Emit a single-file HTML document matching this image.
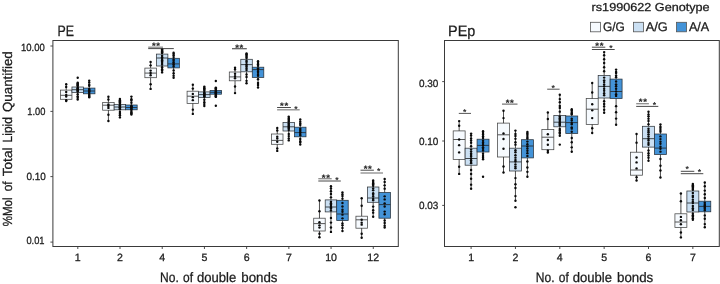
<!DOCTYPE html>
<html><head><meta charset="utf-8"><title>Lipid boxplots</title>
<style>
html,body{margin:0;padding:0;background:#fff;}
body{width:720px;height:284px;overflow:hidden;font-family:"Liberation Sans",sans-serif;}
svg{display:block;will-change:transform;}
svg text{font-family:"Liberation Sans",sans-serif;fill:#1c1c1c;stroke:#1c1c1c;stroke-width:0.28px;text-rendering:geometricPrecision;}
</style></head><body>
<svg width="720" height="284" viewBox="0 0 720 284">
<rect width="720" height="284" fill="#fff"/>
<rect x="52.9" y="40.5" width="345.40000000000003" height="206.0" fill="none" stroke="#3a3a3a" stroke-width="1"/>
<rect x="444.5" y="40.5" width="274.79999999999995" height="206.0" fill="none" stroke="#3a3a3a" stroke-width="1"/>
<rect x="60.45" y="90.1" width="11.5" height="9.20" fill="#f6fafe" stroke="#444" stroke-width="0.75"/>
<path d="M60.45 95.3H71.95" stroke="#444" stroke-width="0.9"/>
<path d="M66.20 84.3V90.1M66.20 99.3V101" stroke="#222" stroke-width="0.8" fill="none"/>
<circle cx="66.20" cy="84.30" r="1.2" fill="#0a0a0a"/>
<circle cx="66.20" cy="101.00" r="1.2" fill="#0a0a0a"/>
<circle cx="66.20" cy="86.94" r="1.2" fill="#0a0a0a"/>
<circle cx="66.20" cy="92.00" r="1.2" fill="#0a0a0a"/>
<circle cx="66.20" cy="94.87" r="1.2" fill="#0a0a0a"/>
<circle cx="66.20" cy="96.51" r="1.2" fill="#0a0a0a"/>
<circle cx="66.20" cy="100.17" r="1.2" fill="#0a0a0a"/>
<rect x="71.95" y="87" width="11.5" height="5.40" fill="#cbe0f3" stroke="#30353a" stroke-width="0.75"/>
<path d="M71.95 89.7H83.45" stroke="#30353a" stroke-width="0.9"/>
<path d="M77.70 82.7V87M77.70 92.4V99.5" stroke="#222" stroke-width="0.8" fill="none"/>
<circle cx="77.70" cy="82.70" r="1.2" fill="#0a0a0a"/>
<circle cx="77.70" cy="99.50" r="1.2" fill="#0a0a0a"/>
<circle cx="77.70" cy="77.70" r="1.2" fill="#0a0a0a"/>
<circle cx="77.70" cy="83.50" r="1.2" fill="#0a0a0a"/>
<circle cx="77.70" cy="84.23" r="1.2" fill="#0a0a0a"/>
<circle cx="77.70" cy="85.28" r="1.2" fill="#0a0a0a"/>
<circle cx="77.70" cy="85.94" r="1.2" fill="#0a0a0a"/>
<circle cx="77.70" cy="87.65" r="1.2" fill="#0a0a0a"/>
<circle cx="77.70" cy="88.20" r="1.2" fill="#0a0a0a"/>
<circle cx="77.70" cy="88.89" r="1.2" fill="#0a0a0a"/>
<circle cx="77.70" cy="89.67" r="1.2" fill="#0a0a0a"/>
<circle cx="77.70" cy="90.49" r="1.2" fill="#0a0a0a"/>
<circle cx="77.70" cy="90.92" r="1.2" fill="#0a0a0a"/>
<circle cx="77.70" cy="91.63" r="1.2" fill="#0a0a0a"/>
<circle cx="77.70" cy="94.29" r="1.2" fill="#0a0a0a"/>
<circle cx="77.70" cy="96.35" r="1.2" fill="#0a0a0a"/>
<circle cx="77.70" cy="97.79" r="1.2" fill="#0a0a0a"/>
<rect x="83.45" y="88.1" width="11.5" height="5.70" fill="#4393d8" stroke="#27313b" stroke-width="0.75"/>
<path d="M83.45 91H94.95" stroke="#27313b" stroke-width="0.9"/>
<path d="M89.20 80.6V88.1M89.20 93.8V97.3" stroke="#222" stroke-width="0.8" fill="none"/>
<circle cx="89.20" cy="80.60" r="1.2" fill="#0a0a0a"/>
<circle cx="89.20" cy="97.30" r="1.2" fill="#0a0a0a"/>
<circle cx="89.20" cy="82.38" r="1.2" fill="#0a0a0a"/>
<circle cx="89.20" cy="84.80" r="1.2" fill="#0a0a0a"/>
<circle cx="89.20" cy="85.80" r="1.2" fill="#0a0a0a"/>
<circle cx="89.20" cy="89.06" r="1.2" fill="#0a0a0a"/>
<circle cx="89.20" cy="89.64" r="1.2" fill="#0a0a0a"/>
<circle cx="89.20" cy="90.40" r="1.2" fill="#0a0a0a"/>
<circle cx="89.20" cy="91.20" r="1.2" fill="#0a0a0a"/>
<circle cx="89.20" cy="92.09" r="1.2" fill="#0a0a0a"/>
<circle cx="89.20" cy="93.11" r="1.2" fill="#0a0a0a"/>
<circle cx="89.20" cy="94.54" r="1.2" fill="#0a0a0a"/>
<circle cx="89.20" cy="95.59" r="1.2" fill="#0a0a0a"/>
<circle cx="89.20" cy="96.49" r="1.2" fill="#0a0a0a"/>
<rect x="102.66" y="102.6" width="11.5" height="7.60" fill="#f6fafe" stroke="#444" stroke-width="0.75"/>
<path d="M102.66 105.2H114.16" stroke="#444" stroke-width="0.9"/>
<path d="M108.41 96.8V102.6M108.41 110.2V121" stroke="#222" stroke-width="0.8" fill="none"/>
<circle cx="108.41" cy="96.80" r="1.2" fill="#0a0a0a"/>
<circle cx="108.41" cy="121.00" r="1.2" fill="#0a0a0a"/>
<circle cx="108.41" cy="99.51" r="1.2" fill="#0a0a0a"/>
<circle cx="108.41" cy="104.55" r="1.2" fill="#0a0a0a"/>
<circle cx="108.41" cy="105.98" r="1.2" fill="#0a0a0a"/>
<circle cx="108.41" cy="107.88" r="1.2" fill="#0a0a0a"/>
<circle cx="108.41" cy="114.81" r="1.2" fill="#0a0a0a"/>
<rect x="114.16" y="104.6" width="11.5" height="5.20" fill="#cbe0f3" stroke="#30353a" stroke-width="0.75"/>
<path d="M114.16 107H125.66" stroke="#30353a" stroke-width="0.9"/>
<path d="M119.91 99V104.6M119.91 109.8V117.4" stroke="#222" stroke-width="0.8" fill="none"/>
<circle cx="119.91" cy="99.00" r="1.2" fill="#0a0a0a"/>
<circle cx="119.91" cy="117.40" r="1.2" fill="#0a0a0a"/>
<circle cx="119.91" cy="100.22" r="1.2" fill="#0a0a0a"/>
<circle cx="119.91" cy="101.20" r="1.2" fill="#0a0a0a"/>
<circle cx="119.91" cy="102.26" r="1.2" fill="#0a0a0a"/>
<circle cx="119.91" cy="103.53" r="1.2" fill="#0a0a0a"/>
<circle cx="119.91" cy="105.23" r="1.2" fill="#0a0a0a"/>
<circle cx="119.91" cy="105.83" r="1.2" fill="#0a0a0a"/>
<circle cx="119.91" cy="106.65" r="1.2" fill="#0a0a0a"/>
<circle cx="119.91" cy="107.26" r="1.2" fill="#0a0a0a"/>
<circle cx="119.91" cy="107.77" r="1.2" fill="#0a0a0a"/>
<circle cx="119.91" cy="108.52" r="1.2" fill="#0a0a0a"/>
<circle cx="119.91" cy="109.16" r="1.2" fill="#0a0a0a"/>
<circle cx="119.91" cy="112.06" r="1.2" fill="#0a0a0a"/>
<circle cx="119.91" cy="113.82" r="1.2" fill="#0a0a0a"/>
<circle cx="119.91" cy="115.30" r="1.2" fill="#0a0a0a"/>
<rect x="125.66" y="105" width="11.5" height="4.80" fill="#4393d8" stroke="#27313b" stroke-width="0.75"/>
<path d="M125.66 107.5H137.16" stroke="#27313b" stroke-width="0.9"/>
<path d="M131.41 96.6V105M131.41 109.8V114.6" stroke="#222" stroke-width="0.8" fill="none"/>
<circle cx="131.41" cy="96.60" r="1.2" fill="#0a0a0a"/>
<circle cx="131.41" cy="114.60" r="1.2" fill="#0a0a0a"/>
<circle cx="131.41" cy="99.20" r="1.2" fill="#0a0a0a"/>
<circle cx="131.41" cy="100.40" r="1.2" fill="#0a0a0a"/>
<circle cx="131.41" cy="102.81" r="1.2" fill="#0a0a0a"/>
<circle cx="131.41" cy="105.77" r="1.2" fill="#0a0a0a"/>
<circle cx="131.41" cy="106.25" r="1.2" fill="#0a0a0a"/>
<circle cx="131.41" cy="107.05" r="1.2" fill="#0a0a0a"/>
<circle cx="131.41" cy="107.58" r="1.2" fill="#0a0a0a"/>
<circle cx="131.41" cy="108.49" r="1.2" fill="#0a0a0a"/>
<circle cx="131.41" cy="109.20" r="1.2" fill="#0a0a0a"/>
<circle cx="131.41" cy="111.04" r="1.2" fill="#0a0a0a"/>
<circle cx="131.41" cy="112.43" r="1.2" fill="#0a0a0a"/>
<circle cx="131.41" cy="113.29" r="1.2" fill="#0a0a0a"/>
<rect x="144.87" y="68.1" width="11.5" height="9.60" fill="#f6fafe" stroke="#444" stroke-width="0.75"/>
<path d="M144.87 73.1H156.37" stroke="#444" stroke-width="0.9"/>
<path d="M150.62 62V68.1M150.62 77.7V88.9" stroke="#222" stroke-width="0.8" fill="none"/>
<circle cx="150.62" cy="62.00" r="1.2" fill="#0a0a0a"/>
<circle cx="150.62" cy="88.90" r="1.2" fill="#0a0a0a"/>
<circle cx="150.62" cy="65.35" r="1.2" fill="#0a0a0a"/>
<circle cx="150.62" cy="70.61" r="1.2" fill="#0a0a0a"/>
<circle cx="150.62" cy="73.00" r="1.2" fill="#0a0a0a"/>
<circle cx="150.62" cy="75.25" r="1.2" fill="#0a0a0a"/>
<circle cx="150.62" cy="84.25" r="1.2" fill="#0a0a0a"/>
<rect x="156.37" y="54.1" width="11.5" height="11.90" fill="#cbe0f3" stroke="#30353a" stroke-width="0.75"/>
<path d="M156.37 58H167.87" stroke="#30353a" stroke-width="0.9"/>
<path d="M162.12 49.2V54.1M162.12 66V72.4" stroke="#222" stroke-width="0.8" fill="none"/>
<circle cx="162.12" cy="49.20" r="1.2" fill="#0a0a0a"/>
<circle cx="162.12" cy="72.40" r="1.2" fill="#0a0a0a"/>
<circle cx="162.12" cy="50.40" r="1.2" fill="#0a0a0a"/>
<circle cx="162.12" cy="51.15" r="1.2" fill="#0a0a0a"/>
<circle cx="162.12" cy="52.22" r="1.2" fill="#0a0a0a"/>
<circle cx="162.12" cy="52.90" r="1.2" fill="#0a0a0a"/>
<circle cx="162.12" cy="55.74" r="1.2" fill="#0a0a0a"/>
<circle cx="162.12" cy="57.18" r="1.2" fill="#0a0a0a"/>
<circle cx="162.12" cy="58.93" r="1.2" fill="#0a0a0a"/>
<circle cx="162.12" cy="60.29" r="1.2" fill="#0a0a0a"/>
<circle cx="162.12" cy="61.38" r="1.2" fill="#0a0a0a"/>
<circle cx="162.12" cy="62.94" r="1.2" fill="#0a0a0a"/>
<circle cx="162.12" cy="64.64" r="1.2" fill="#0a0a0a"/>
<circle cx="162.12" cy="67.22" r="1.2" fill="#0a0a0a"/>
<circle cx="162.12" cy="69.17" r="1.2" fill="#0a0a0a"/>
<circle cx="162.12" cy="70.53" r="1.2" fill="#0a0a0a"/>
<rect x="167.87" y="58.3" width="11.5" height="9.60" fill="#4393d8" stroke="#27313b" stroke-width="0.75"/>
<path d="M167.87 63.9H179.37" stroke="#27313b" stroke-width="0.9"/>
<path d="M173.62 52.7V58.3M173.62 67.9V77.7" stroke="#222" stroke-width="0.8" fill="none"/>
<circle cx="173.62" cy="52.70" r="1.2" fill="#0a0a0a"/>
<circle cx="173.62" cy="77.70" r="1.2" fill="#0a0a0a"/>
<circle cx="173.62" cy="53.83" r="1.2" fill="#0a0a0a"/>
<circle cx="173.62" cy="55.19" r="1.2" fill="#0a0a0a"/>
<circle cx="173.62" cy="57.09" r="1.2" fill="#0a0a0a"/>
<circle cx="173.62" cy="59.42" r="1.2" fill="#0a0a0a"/>
<circle cx="173.62" cy="60.87" r="1.2" fill="#0a0a0a"/>
<circle cx="173.62" cy="62.34" r="1.2" fill="#0a0a0a"/>
<circle cx="173.62" cy="64.04" r="1.2" fill="#0a0a0a"/>
<circle cx="173.62" cy="64.87" r="1.2" fill="#0a0a0a"/>
<circle cx="173.62" cy="66.49" r="1.2" fill="#0a0a0a"/>
<circle cx="173.62" cy="70.41" r="1.2" fill="#0a0a0a"/>
<circle cx="173.62" cy="73.27" r="1.2" fill="#0a0a0a"/>
<circle cx="173.62" cy="75.64" r="1.2" fill="#0a0a0a"/>
<rect x="187.08" y="91.2" width="11.5" height="12.20" fill="#f6fafe" stroke="#444" stroke-width="0.75"/>
<path d="M187.08 96.2H198.58" stroke="#444" stroke-width="0.9"/>
<path d="M192.83 84.8V91.2M192.83 103.4V113.9" stroke="#222" stroke-width="0.8" fill="none"/>
<circle cx="192.83" cy="84.80" r="1.2" fill="#0a0a0a"/>
<circle cx="192.83" cy="113.90" r="1.2" fill="#0a0a0a"/>
<circle cx="192.83" cy="88.58" r="1.2" fill="#0a0a0a"/>
<circle cx="192.83" cy="93.91" r="1.2" fill="#0a0a0a"/>
<circle cx="192.83" cy="97.17" r="1.2" fill="#0a0a0a"/>
<circle cx="192.83" cy="100.13" r="1.2" fill="#0a0a0a"/>
<circle cx="192.83" cy="109.66" r="1.2" fill="#0a0a0a"/>
<rect x="198.58" y="91.9" width="11.5" height="5.70" fill="#cbe0f3" stroke="#30353a" stroke-width="0.75"/>
<path d="M198.58 94.6H210.08" stroke="#30353a" stroke-width="0.9"/>
<path d="M204.33 86.6V91.9M204.33 97.6V106" stroke="#222" stroke-width="0.8" fill="none"/>
<circle cx="204.33" cy="86.60" r="1.2" fill="#0a0a0a"/>
<circle cx="204.33" cy="106.00" r="1.2" fill="#0a0a0a"/>
<circle cx="204.33" cy="87.90" r="1.2" fill="#0a0a0a"/>
<circle cx="204.33" cy="88.53" r="1.2" fill="#0a0a0a"/>
<circle cx="204.33" cy="89.61" r="1.2" fill="#0a0a0a"/>
<circle cx="204.33" cy="90.70" r="1.2" fill="#0a0a0a"/>
<circle cx="204.33" cy="92.52" r="1.2" fill="#0a0a0a"/>
<circle cx="204.33" cy="93.32" r="1.2" fill="#0a0a0a"/>
<circle cx="204.33" cy="94.07" r="1.2" fill="#0a0a0a"/>
<circle cx="204.33" cy="94.67" r="1.2" fill="#0a0a0a"/>
<circle cx="204.33" cy="95.29" r="1.2" fill="#0a0a0a"/>
<circle cx="204.33" cy="96.15" r="1.2" fill="#0a0a0a"/>
<circle cx="204.33" cy="96.84" r="1.2" fill="#0a0a0a"/>
<circle cx="204.33" cy="99.77" r="1.2" fill="#0a0a0a"/>
<circle cx="204.33" cy="102.28" r="1.2" fill="#0a0a0a"/>
<circle cx="204.33" cy="104.10" r="1.2" fill="#0a0a0a"/>
<rect x="210.08" y="90.4" width="11.5" height="3.80" fill="#4393d8" stroke="#27313b" stroke-width="0.75"/>
<path d="M210.08 92.3H221.58" stroke="#27313b" stroke-width="0.9"/>
<path d="M215.83 87.6V90.4M215.83 94.2V96.9" stroke="#222" stroke-width="0.8" fill="none"/>
<circle cx="215.83" cy="87.60" r="1.2" fill="#0a0a0a"/>
<circle cx="215.83" cy="96.90" r="1.2" fill="#0a0a0a"/>
<circle cx="215.83" cy="81.00" r="1.2" fill="#0a0a0a"/>
<circle cx="215.83" cy="105.80" r="1.2" fill="#0a0a0a"/>
<circle cx="215.83" cy="88.31" r="1.2" fill="#0a0a0a"/>
<circle cx="215.83" cy="89.04" r="1.2" fill="#0a0a0a"/>
<circle cx="215.83" cy="89.76" r="1.2" fill="#0a0a0a"/>
<circle cx="215.83" cy="90.82" r="1.2" fill="#0a0a0a"/>
<circle cx="215.83" cy="91.59" r="1.2" fill="#0a0a0a"/>
<circle cx="215.83" cy="92.10" r="1.2" fill="#0a0a0a"/>
<circle cx="215.83" cy="92.67" r="1.2" fill="#0a0a0a"/>
<circle cx="215.83" cy="93.20" r="1.2" fill="#0a0a0a"/>
<circle cx="215.83" cy="93.63" r="1.2" fill="#0a0a0a"/>
<circle cx="215.83" cy="94.84" r="1.2" fill="#0a0a0a"/>
<circle cx="215.83" cy="95.42" r="1.2" fill="#0a0a0a"/>
<circle cx="215.83" cy="96.27" r="1.2" fill="#0a0a0a"/>
<rect x="229.29" y="72" width="11.5" height="8.80" fill="#f6fafe" stroke="#444" stroke-width="0.75"/>
<path d="M229.29 76.9H240.79" stroke="#444" stroke-width="0.9"/>
<path d="M235.04 67.7V72M235.04 80.8V93.1" stroke="#222" stroke-width="0.8" fill="none"/>
<circle cx="235.04" cy="67.70" r="1.2" fill="#0a0a0a"/>
<circle cx="235.04" cy="93.10" r="1.2" fill="#0a0a0a"/>
<circle cx="235.04" cy="69.38" r="1.2" fill="#0a0a0a"/>
<circle cx="235.04" cy="73.72" r="1.2" fill="#0a0a0a"/>
<circle cx="235.04" cy="76.08" r="1.2" fill="#0a0a0a"/>
<circle cx="235.04" cy="78.23" r="1.2" fill="#0a0a0a"/>
<circle cx="235.04" cy="86.46" r="1.2" fill="#0a0a0a"/>
<rect x="240.79" y="59.3" width="11.5" height="12.50" fill="#cbe0f3" stroke="#30353a" stroke-width="0.75"/>
<path d="M240.79 64.6H252.29" stroke="#30353a" stroke-width="0.9"/>
<path d="M246.54 53.4V59.3M246.54 71.8V83.2" stroke="#222" stroke-width="0.8" fill="none"/>
<circle cx="246.54" cy="53.40" r="1.2" fill="#0a0a0a"/>
<circle cx="246.54" cy="83.20" r="1.2" fill="#0a0a0a"/>
<circle cx="246.54" cy="54.32" r="1.2" fill="#0a0a0a"/>
<circle cx="246.54" cy="55.47" r="1.2" fill="#0a0a0a"/>
<circle cx="246.54" cy="56.73" r="1.2" fill="#0a0a0a"/>
<circle cx="246.54" cy="57.88" r="1.2" fill="#0a0a0a"/>
<circle cx="246.54" cy="60.76" r="1.2" fill="#0a0a0a"/>
<circle cx="246.54" cy="62.05" r="1.2" fill="#0a0a0a"/>
<circle cx="246.54" cy="64.28" r="1.2" fill="#0a0a0a"/>
<circle cx="246.54" cy="65.64" r="1.2" fill="#0a0a0a"/>
<circle cx="246.54" cy="66.84" r="1.2" fill="#0a0a0a"/>
<circle cx="246.54" cy="68.48" r="1.2" fill="#0a0a0a"/>
<circle cx="246.54" cy="70.12" r="1.2" fill="#0a0a0a"/>
<circle cx="246.54" cy="74.46" r="1.2" fill="#0a0a0a"/>
<circle cx="246.54" cy="76.96" r="1.2" fill="#0a0a0a"/>
<circle cx="246.54" cy="80.85" r="1.2" fill="#0a0a0a"/>
<rect x="252.29" y="67.2" width="11.5" height="10.20" fill="#4393d8" stroke="#27313b" stroke-width="0.75"/>
<path d="M252.29 69.6H263.79" stroke="#27313b" stroke-width="0.9"/>
<path d="M258.04 61.2V67.2M258.04 77.4V87.5" stroke="#222" stroke-width="0.8" fill="none"/>
<circle cx="258.04" cy="61.20" r="1.2" fill="#0a0a0a"/>
<circle cx="258.04" cy="87.50" r="1.2" fill="#0a0a0a"/>
<circle cx="258.04" cy="63.07" r="1.2" fill="#0a0a0a"/>
<circle cx="258.04" cy="64.17" r="1.2" fill="#0a0a0a"/>
<circle cx="258.04" cy="65.69" r="1.2" fill="#0a0a0a"/>
<circle cx="258.04" cy="68.36" r="1.2" fill="#0a0a0a"/>
<circle cx="258.04" cy="69.82" r="1.2" fill="#0a0a0a"/>
<circle cx="258.04" cy="71.46" r="1.2" fill="#0a0a0a"/>
<circle cx="258.04" cy="72.86" r="1.2" fill="#0a0a0a"/>
<circle cx="258.04" cy="74.73" r="1.2" fill="#0a0a0a"/>
<circle cx="258.04" cy="75.70" r="1.2" fill="#0a0a0a"/>
<circle cx="258.04" cy="79.32" r="1.2" fill="#0a0a0a"/>
<circle cx="258.04" cy="83.02" r="1.2" fill="#0a0a0a"/>
<circle cx="258.04" cy="85.01" r="1.2" fill="#0a0a0a"/>
<rect x="271.50" y="134" width="11.5" height="10.30" fill="#f6fafe" stroke="#444" stroke-width="0.75"/>
<path d="M271.50 140.4H283.00" stroke="#444" stroke-width="0.9"/>
<path d="M277.25 128V134M277.25 144.3V150.9" stroke="#222" stroke-width="0.8" fill="none"/>
<circle cx="277.25" cy="128.00" r="1.2" fill="#0a0a0a"/>
<circle cx="277.25" cy="150.90" r="1.2" fill="#0a0a0a"/>
<circle cx="277.25" cy="130.47" r="1.2" fill="#0a0a0a"/>
<circle cx="277.25" cy="136.63" r="1.2" fill="#0a0a0a"/>
<circle cx="277.25" cy="138.54" r="1.2" fill="#0a0a0a"/>
<circle cx="277.25" cy="141.76" r="1.2" fill="#0a0a0a"/>
<circle cx="277.25" cy="148.39" r="1.2" fill="#0a0a0a"/>
<rect x="283.00" y="122.4" width="11.5" height="8.60" fill="#cbe0f3" stroke="#30353a" stroke-width="0.75"/>
<path d="M283.00 126.8H294.50" stroke="#30353a" stroke-width="0.9"/>
<path d="M288.75 116.6V122.4M288.75 131V140.4" stroke="#222" stroke-width="0.8" fill="none"/>
<circle cx="288.75" cy="116.60" r="1.2" fill="#0a0a0a"/>
<circle cx="288.75" cy="140.40" r="1.2" fill="#0a0a0a"/>
<circle cx="288.75" cy="117.97" r="1.2" fill="#0a0a0a"/>
<circle cx="288.75" cy="119.03" r="1.2" fill="#0a0a0a"/>
<circle cx="288.75" cy="119.94" r="1.2" fill="#0a0a0a"/>
<circle cx="288.75" cy="121.16" r="1.2" fill="#0a0a0a"/>
<circle cx="288.75" cy="123.30" r="1.2" fill="#0a0a0a"/>
<circle cx="288.75" cy="124.70" r="1.2" fill="#0a0a0a"/>
<circle cx="288.75" cy="125.64" r="1.2" fill="#0a0a0a"/>
<circle cx="288.75" cy="126.85" r="1.2" fill="#0a0a0a"/>
<circle cx="288.75" cy="127.68" r="1.2" fill="#0a0a0a"/>
<circle cx="288.75" cy="128.70" r="1.2" fill="#0a0a0a"/>
<circle cx="288.75" cy="130.09" r="1.2" fill="#0a0a0a"/>
<circle cx="288.75" cy="133.92" r="1.2" fill="#0a0a0a"/>
<circle cx="288.75" cy="136.11" r="1.2" fill="#0a0a0a"/>
<circle cx="288.75" cy="138.41" r="1.2" fill="#0a0a0a"/>
<rect x="294.50" y="127.2" width="11.5" height="9.60" fill="#4393d8" stroke="#27313b" stroke-width="0.75"/>
<path d="M294.50 132.6H306.00" stroke="#27313b" stroke-width="0.9"/>
<path d="M300.25 119.4V127.2M300.25 136.8V144.6" stroke="#222" stroke-width="0.8" fill="none"/>
<circle cx="300.25" cy="119.40" r="1.2" fill="#0a0a0a"/>
<circle cx="300.25" cy="144.60" r="1.2" fill="#0a0a0a"/>
<circle cx="300.25" cy="121.66" r="1.2" fill="#0a0a0a"/>
<circle cx="300.25" cy="123.53" r="1.2" fill="#0a0a0a"/>
<circle cx="300.25" cy="124.98" r="1.2" fill="#0a0a0a"/>
<circle cx="300.25" cy="128.58" r="1.2" fill="#0a0a0a"/>
<circle cx="300.25" cy="129.84" r="1.2" fill="#0a0a0a"/>
<circle cx="300.25" cy="130.99" r="1.2" fill="#0a0a0a"/>
<circle cx="300.25" cy="132.36" r="1.2" fill="#0a0a0a"/>
<circle cx="300.25" cy="133.91" r="1.2" fill="#0a0a0a"/>
<circle cx="300.25" cy="135.26" r="1.2" fill="#0a0a0a"/>
<circle cx="300.25" cy="138.94" r="1.2" fill="#0a0a0a"/>
<circle cx="300.25" cy="141.15" r="1.2" fill="#0a0a0a"/>
<circle cx="300.25" cy="142.60" r="1.2" fill="#0a0a0a"/>
<rect x="313.71" y="218.2" width="11.5" height="12.80" fill="#f6fafe" stroke="#444" stroke-width="0.75"/>
<path d="M313.71 223.6H325.21" stroke="#444" stroke-width="0.9"/>
<path d="M319.46 200.5V218.2M319.46 231V237.3" stroke="#222" stroke-width="0.8" fill="none"/>
<circle cx="319.46" cy="200.50" r="1.2" fill="#0a0a0a"/>
<circle cx="319.46" cy="237.30" r="1.2" fill="#0a0a0a"/>
<circle cx="319.46" cy="211.28" r="1.2" fill="#0a0a0a"/>
<circle cx="319.46" cy="222.18" r="1.2" fill="#0a0a0a"/>
<circle cx="319.46" cy="225.33" r="1.2" fill="#0a0a0a"/>
<circle cx="319.46" cy="227.58" r="1.2" fill="#0a0a0a"/>
<circle cx="319.46" cy="233.71" r="1.2" fill="#0a0a0a"/>
<rect x="325.21" y="199.9" width="11.5" height="12.00" fill="#cbe0f3" stroke="#30353a" stroke-width="0.75"/>
<path d="M325.21 207H336.71" stroke="#30353a" stroke-width="0.9"/>
<path d="M330.96 186.2V199.9M330.96 211.9V231.9" stroke="#222" stroke-width="0.8" fill="none"/>
<circle cx="330.96" cy="186.20" r="1.2" fill="#0a0a0a"/>
<circle cx="330.96" cy="231.90" r="1.2" fill="#0a0a0a"/>
<circle cx="330.96" cy="188.57" r="1.2" fill="#0a0a0a"/>
<circle cx="330.96" cy="191.26" r="1.2" fill="#0a0a0a"/>
<circle cx="330.96" cy="194.01" r="1.2" fill="#0a0a0a"/>
<circle cx="330.96" cy="197.33" r="1.2" fill="#0a0a0a"/>
<circle cx="330.96" cy="201.70" r="1.2" fill="#0a0a0a"/>
<circle cx="330.96" cy="203.16" r="1.2" fill="#0a0a0a"/>
<circle cx="330.96" cy="204.38" r="1.2" fill="#0a0a0a"/>
<circle cx="330.96" cy="206.01" r="1.2" fill="#0a0a0a"/>
<circle cx="330.96" cy="207.62" r="1.2" fill="#0a0a0a"/>
<circle cx="330.96" cy="208.59" r="1.2" fill="#0a0a0a"/>
<circle cx="330.96" cy="210.52" r="1.2" fill="#0a0a0a"/>
<circle cx="330.96" cy="217.92" r="1.2" fill="#0a0a0a"/>
<circle cx="330.96" cy="222.61" r="1.2" fill="#0a0a0a"/>
<circle cx="330.96" cy="227.53" r="1.2" fill="#0a0a0a"/>
<rect x="336.71" y="200.3" width="11.5" height="20.30" fill="#4393d8" stroke="#27313b" stroke-width="0.75"/>
<path d="M336.71 214H348.21" stroke="#27313b" stroke-width="0.9"/>
<path d="M342.46 192.5V200.3M342.46 220.6V231" stroke="#222" stroke-width="0.8" fill="none"/>
<circle cx="342.46" cy="192.50" r="1.2" fill="#0a0a0a"/>
<circle cx="342.46" cy="231.00" r="1.2" fill="#0a0a0a"/>
<circle cx="342.46" cy="194.43" r="1.2" fill="#0a0a0a"/>
<circle cx="342.46" cy="196.09" r="1.2" fill="#0a0a0a"/>
<circle cx="342.46" cy="198.63" r="1.2" fill="#0a0a0a"/>
<circle cx="342.46" cy="202.96" r="1.2" fill="#0a0a0a"/>
<circle cx="342.46" cy="206.54" r="1.2" fill="#0a0a0a"/>
<circle cx="342.46" cy="209.68" r="1.2" fill="#0a0a0a"/>
<circle cx="342.46" cy="211.75" r="1.2" fill="#0a0a0a"/>
<circle cx="342.46" cy="214.66" r="1.2" fill="#0a0a0a"/>
<circle cx="342.46" cy="218.35" r="1.2" fill="#0a0a0a"/>
<circle cx="342.46" cy="223.49" r="1.2" fill="#0a0a0a"/>
<circle cx="342.46" cy="225.37" r="1.2" fill="#0a0a0a"/>
<circle cx="342.46" cy="227.92" r="1.2" fill="#0a0a0a"/>
<rect x="355.92" y="216.2" width="11.5" height="12.00" fill="#f6fafe" stroke="#444" stroke-width="0.75"/>
<path d="M355.92 219.8H367.42" stroke="#444" stroke-width="0.9"/>
<path d="M361.67 198.3V216.2M361.67 228.2V237.7" stroke="#222" stroke-width="0.8" fill="none"/>
<circle cx="361.67" cy="198.30" r="1.2" fill="#0a0a0a"/>
<circle cx="361.67" cy="237.70" r="1.2" fill="#0a0a0a"/>
<circle cx="361.67" cy="205.69" r="1.2" fill="#0a0a0a"/>
<circle cx="361.67" cy="219.81" r="1.2" fill="#0a0a0a"/>
<circle cx="361.67" cy="222.66" r="1.2" fill="#0a0a0a"/>
<circle cx="361.67" cy="224.67" r="1.2" fill="#0a0a0a"/>
<circle cx="361.67" cy="233.73" r="1.2" fill="#0a0a0a"/>
<rect x="367.42" y="187" width="11.5" height="15.30" fill="#cbe0f3" stroke="#30353a" stroke-width="0.75"/>
<path d="M367.42 198H378.92" stroke="#30353a" stroke-width="0.9"/>
<path d="M373.17 180.4V187M373.17 202.3V216.8" stroke="#222" stroke-width="0.8" fill="none"/>
<circle cx="373.17" cy="180.40" r="1.2" fill="#0a0a0a"/>
<circle cx="373.17" cy="216.80" r="1.2" fill="#0a0a0a"/>
<circle cx="373.17" cy="182.04" r="1.2" fill="#0a0a0a"/>
<circle cx="373.17" cy="183.14" r="1.2" fill="#0a0a0a"/>
<circle cx="373.17" cy="184.26" r="1.2" fill="#0a0a0a"/>
<circle cx="373.17" cy="185.71" r="1.2" fill="#0a0a0a"/>
<circle cx="373.17" cy="188.56" r="1.2" fill="#0a0a0a"/>
<circle cx="373.17" cy="190.36" r="1.2" fill="#0a0a0a"/>
<circle cx="373.17" cy="193.19" r="1.2" fill="#0a0a0a"/>
<circle cx="373.17" cy="194.79" r="1.2" fill="#0a0a0a"/>
<circle cx="373.17" cy="196.59" r="1.2" fill="#0a0a0a"/>
<circle cx="373.17" cy="198.89" r="1.2" fill="#0a0a0a"/>
<circle cx="373.17" cy="200.32" r="1.2" fill="#0a0a0a"/>
<circle cx="373.17" cy="206.60" r="1.2" fill="#0a0a0a"/>
<circle cx="373.17" cy="210.14" r="1.2" fill="#0a0a0a"/>
<circle cx="373.17" cy="212.65" r="1.2" fill="#0a0a0a"/>
<rect x="378.92" y="192.5" width="11.5" height="25.70" fill="#4393d8" stroke="#27313b" stroke-width="0.75"/>
<path d="M378.92 204.6H390.42" stroke="#27313b" stroke-width="0.9"/>
<path d="M384.67 178.9V192.5M384.67 218.2V227.5" stroke="#222" stroke-width="0.8" fill="none"/>
<circle cx="384.67" cy="178.90" r="1.2" fill="#0a0a0a"/>
<circle cx="384.67" cy="227.50" r="1.2" fill="#0a0a0a"/>
<circle cx="384.67" cy="181.88" r="1.2" fill="#0a0a0a"/>
<circle cx="384.67" cy="185.35" r="1.2" fill="#0a0a0a"/>
<circle cx="384.67" cy="188.66" r="1.2" fill="#0a0a0a"/>
<circle cx="384.67" cy="196.33" r="1.2" fill="#0a0a0a"/>
<circle cx="384.67" cy="199.40" r="1.2" fill="#0a0a0a"/>
<circle cx="384.67" cy="203.37" r="1.2" fill="#0a0a0a"/>
<circle cx="384.67" cy="206.51" r="1.2" fill="#0a0a0a"/>
<circle cx="384.67" cy="211.61" r="1.2" fill="#0a0a0a"/>
<circle cx="384.67" cy="214.26" r="1.2" fill="#0a0a0a"/>
<circle cx="384.67" cy="220.48" r="1.2" fill="#0a0a0a"/>
<circle cx="384.67" cy="222.95" r="1.2" fill="#0a0a0a"/>
<circle cx="384.67" cy="225.64" r="1.2" fill="#0a0a0a"/>
<rect x="453.18" y="130.9" width="11.95" height="28.50" fill="#f6fafe" stroke="#444" stroke-width="0.75"/>
<path d="M453.18 139.5H465.12" stroke="#444" stroke-width="0.9"/>
<path d="M459.15 121.1V130.9M459.15 159.4V173.9" stroke="#222" stroke-width="0.8" fill="none"/>
<circle cx="459.15" cy="121.10" r="1.2" fill="#0a0a0a"/>
<circle cx="459.15" cy="173.90" r="1.2" fill="#0a0a0a"/>
<circle cx="459.15" cy="125.81" r="1.2" fill="#0a0a0a"/>
<circle cx="459.15" cy="139.51" r="1.2" fill="#0a0a0a"/>
<circle cx="459.15" cy="145.16" r="1.2" fill="#0a0a0a"/>
<circle cx="459.15" cy="152.39" r="1.2" fill="#0a0a0a"/>
<circle cx="459.15" cy="166.74" r="1.2" fill="#0a0a0a"/>
<rect x="465.12" y="148.2" width="11.95" height="17.00" fill="#cbe0f3" stroke="#30353a" stroke-width="0.75"/>
<path d="M465.12 158.5H477.07" stroke="#30353a" stroke-width="0.9"/>
<path d="M471.10 133.6V148.2M471.10 165.2V188.7" stroke="#222" stroke-width="0.8" fill="none"/>
<circle cx="471.10" cy="133.60" r="1.2" fill="#0a0a0a"/>
<circle cx="471.10" cy="188.70" r="1.2" fill="#0a0a0a"/>
<circle cx="471.10" cy="135.45" r="1.2" fill="#0a0a0a"/>
<circle cx="471.10" cy="138.39" r="1.2" fill="#0a0a0a"/>
<circle cx="471.10" cy="140.51" r="1.2" fill="#0a0a0a"/>
<circle cx="471.10" cy="142.73" r="1.2" fill="#0a0a0a"/>
<circle cx="471.10" cy="146.13" r="1.2" fill="#0a0a0a"/>
<circle cx="471.10" cy="149.62" r="1.2" fill="#0a0a0a"/>
<circle cx="471.10" cy="151.58" r="1.2" fill="#0a0a0a"/>
<circle cx="471.10" cy="153.49" r="1.2" fill="#0a0a0a"/>
<circle cx="471.10" cy="155.05" r="1.2" fill="#0a0a0a"/>
<circle cx="471.10" cy="156.55" r="1.2" fill="#0a0a0a"/>
<circle cx="471.10" cy="158.42" r="1.2" fill="#0a0a0a"/>
<circle cx="471.10" cy="160.15" r="1.2" fill="#0a0a0a"/>
<circle cx="471.10" cy="162.04" r="1.2" fill="#0a0a0a"/>
<circle cx="471.10" cy="163.17" r="1.2" fill="#0a0a0a"/>
<circle cx="471.10" cy="170.04" r="1.2" fill="#0a0a0a"/>
<circle cx="471.10" cy="174.01" r="1.2" fill="#0a0a0a"/>
<circle cx="471.10" cy="178.78" r="1.2" fill="#0a0a0a"/>
<circle cx="471.10" cy="184.64" r="1.2" fill="#0a0a0a"/>
<rect x="477.07" y="139.2" width="11.95" height="12.80" fill="#4393d8" stroke="#27313b" stroke-width="0.75"/>
<path d="M477.07 145.4H489.02" stroke="#27313b" stroke-width="0.9"/>
<path d="M483.05 131.3V139.2M483.05 152V159.3" stroke="#222" stroke-width="0.8" fill="none"/>
<circle cx="483.05" cy="131.30" r="1.2" fill="#0a0a0a"/>
<circle cx="483.05" cy="159.30" r="1.2" fill="#0a0a0a"/>
<circle cx="483.05" cy="176.80" r="1.2" fill="#0a0a0a"/>
<circle cx="483.05" cy="132.89" r="1.2" fill="#0a0a0a"/>
<circle cx="483.05" cy="134.51" r="1.2" fill="#0a0a0a"/>
<circle cx="483.05" cy="136.25" r="1.2" fill="#0a0a0a"/>
<circle cx="483.05" cy="137.95" r="1.2" fill="#0a0a0a"/>
<circle cx="483.05" cy="140.75" r="1.2" fill="#0a0a0a"/>
<circle cx="483.05" cy="142.49" r="1.2" fill="#0a0a0a"/>
<circle cx="483.05" cy="144.00" r="1.2" fill="#0a0a0a"/>
<circle cx="483.05" cy="145.61" r="1.2" fill="#0a0a0a"/>
<circle cx="483.05" cy="147.35" r="1.2" fill="#0a0a0a"/>
<circle cx="483.05" cy="148.76" r="1.2" fill="#0a0a0a"/>
<circle cx="483.05" cy="150.43" r="1.2" fill="#0a0a0a"/>
<circle cx="483.05" cy="153.80" r="1.2" fill="#0a0a0a"/>
<circle cx="483.05" cy="156.05" r="1.2" fill="#0a0a0a"/>
<circle cx="483.05" cy="157.66" r="1.2" fill="#0a0a0a"/>
<rect x="497.53" y="123.1" width="11.95" height="33.90" fill="#f6fafe" stroke="#444" stroke-width="0.75"/>
<path d="M497.53 134.8H509.48" stroke="#444" stroke-width="0.9"/>
<path d="M503.50 110.8V123.1M503.50 157V172.5" stroke="#222" stroke-width="0.8" fill="none"/>
<circle cx="503.50" cy="110.80" r="1.2" fill="#0a0a0a"/>
<circle cx="503.50" cy="172.50" r="1.2" fill="#0a0a0a"/>
<circle cx="503.50" cy="118.11" r="1.2" fill="#0a0a0a"/>
<circle cx="503.50" cy="133.45" r="1.2" fill="#0a0a0a"/>
<circle cx="503.50" cy="139.03" r="1.2" fill="#0a0a0a"/>
<circle cx="503.50" cy="148.78" r="1.2" fill="#0a0a0a"/>
<circle cx="503.50" cy="166.47" r="1.2" fill="#0a0a0a"/>
<rect x="509.48" y="148.2" width="11.95" height="22.80" fill="#cbe0f3" stroke="#30353a" stroke-width="0.75"/>
<path d="M509.48 161.9H521.43" stroke="#30353a" stroke-width="0.9"/>
<path d="M515.45 130.6V148.2M515.45 171V200.7" stroke="#222" stroke-width="0.8" fill="none"/>
<circle cx="515.45" cy="130.60" r="1.2" fill="#0a0a0a"/>
<circle cx="515.45" cy="200.70" r="1.2" fill="#0a0a0a"/>
<circle cx="515.45" cy="207.30" r="1.2" fill="#0a0a0a"/>
<circle cx="515.45" cy="134.03" r="1.2" fill="#0a0a0a"/>
<circle cx="515.45" cy="135.93" r="1.2" fill="#0a0a0a"/>
<circle cx="515.45" cy="138.85" r="1.2" fill="#0a0a0a"/>
<circle cx="515.45" cy="142.25" r="1.2" fill="#0a0a0a"/>
<circle cx="515.45" cy="144.64" r="1.2" fill="#0a0a0a"/>
<circle cx="515.45" cy="150.18" r="1.2" fill="#0a0a0a"/>
<circle cx="515.45" cy="152.27" r="1.2" fill="#0a0a0a"/>
<circle cx="515.45" cy="155.23" r="1.2" fill="#0a0a0a"/>
<circle cx="515.45" cy="157.64" r="1.2" fill="#0a0a0a"/>
<circle cx="515.45" cy="160.05" r="1.2" fill="#0a0a0a"/>
<circle cx="515.45" cy="161.49" r="1.2" fill="#0a0a0a"/>
<circle cx="515.45" cy="164.41" r="1.2" fill="#0a0a0a"/>
<circle cx="515.45" cy="166.62" r="1.2" fill="#0a0a0a"/>
<circle cx="515.45" cy="168.31" r="1.2" fill="#0a0a0a"/>
<circle cx="515.45" cy="178.08" r="1.2" fill="#0a0a0a"/>
<circle cx="515.45" cy="184.27" r="1.2" fill="#0a0a0a"/>
<circle cx="515.45" cy="187.99" r="1.2" fill="#0a0a0a"/>
<circle cx="515.45" cy="196.10" r="1.2" fill="#0a0a0a"/>
<rect x="521.43" y="139.7" width="11.95" height="18.20" fill="#4393d8" stroke="#27313b" stroke-width="0.75"/>
<path d="M521.43 146H533.38" stroke="#27313b" stroke-width="0.9"/>
<path d="M527.40 132V139.7M527.40 157.9V176.7" stroke="#222" stroke-width="0.8" fill="none"/>
<circle cx="527.40" cy="132.00" r="1.2" fill="#0a0a0a"/>
<circle cx="527.40" cy="176.70" r="1.2" fill="#0a0a0a"/>
<circle cx="527.40" cy="133.46" r="1.2" fill="#0a0a0a"/>
<circle cx="527.40" cy="135.07" r="1.2" fill="#0a0a0a"/>
<circle cx="527.40" cy="137.00" r="1.2" fill="#0a0a0a"/>
<circle cx="527.40" cy="138.42" r="1.2" fill="#0a0a0a"/>
<circle cx="527.40" cy="141.59" r="1.2" fill="#0a0a0a"/>
<circle cx="527.40" cy="144.17" r="1.2" fill="#0a0a0a"/>
<circle cx="527.40" cy="146.54" r="1.2" fill="#0a0a0a"/>
<circle cx="527.40" cy="148.62" r="1.2" fill="#0a0a0a"/>
<circle cx="527.40" cy="150.73" r="1.2" fill="#0a0a0a"/>
<circle cx="527.40" cy="153.14" r="1.2" fill="#0a0a0a"/>
<circle cx="527.40" cy="155.88" r="1.2" fill="#0a0a0a"/>
<circle cx="527.40" cy="161.47" r="1.2" fill="#0a0a0a"/>
<circle cx="527.40" cy="167.43" r="1.2" fill="#0a0a0a"/>
<circle cx="527.40" cy="171.86" r="1.2" fill="#0a0a0a"/>
<rect x="541.88" y="129.6" width="11.95" height="20.10" fill="#f6fafe" stroke="#444" stroke-width="0.75"/>
<path d="M541.88 137.2H553.83" stroke="#444" stroke-width="0.9"/>
<path d="M547.85 112.5V129.6M547.85 149.7V152.5" stroke="#222" stroke-width="0.8" fill="none"/>
<circle cx="547.85" cy="112.50" r="1.2" fill="#0a0a0a"/>
<circle cx="547.85" cy="152.50" r="1.2" fill="#0a0a0a"/>
<circle cx="547.85" cy="118.99" r="1.2" fill="#0a0a0a"/>
<circle cx="547.85" cy="134.20" r="1.2" fill="#0a0a0a"/>
<circle cx="547.85" cy="139.96" r="1.2" fill="#0a0a0a"/>
<circle cx="547.85" cy="144.71" r="1.2" fill="#0a0a0a"/>
<circle cx="547.85" cy="150.80" r="1.2" fill="#0a0a0a"/>
<rect x="553.83" y="115.5" width="11.95" height="11.30" fill="#cbe0f3" stroke="#30353a" stroke-width="0.75"/>
<path d="M553.83 122.2H565.78" stroke="#30353a" stroke-width="0.9"/>
<path d="M559.80 94.8V115.5M559.80 126.8V135.7" stroke="#222" stroke-width="0.8" fill="none"/>
<circle cx="559.80" cy="94.80" r="1.2" fill="#0a0a0a"/>
<circle cx="559.80" cy="135.70" r="1.2" fill="#0a0a0a"/>
<circle cx="559.80" cy="144.60" r="1.2" fill="#0a0a0a"/>
<circle cx="559.80" cy="99.09" r="1.2" fill="#0a0a0a"/>
<circle cx="559.80" cy="102.20" r="1.2" fill="#0a0a0a"/>
<circle cx="559.80" cy="105.96" r="1.2" fill="#0a0a0a"/>
<circle cx="559.80" cy="107.92" r="1.2" fill="#0a0a0a"/>
<circle cx="559.80" cy="111.65" r="1.2" fill="#0a0a0a"/>
<circle cx="559.80" cy="116.37" r="1.2" fill="#0a0a0a"/>
<circle cx="559.80" cy="117.92" r="1.2" fill="#0a0a0a"/>
<circle cx="559.80" cy="118.76" r="1.2" fill="#0a0a0a"/>
<circle cx="559.80" cy="119.81" r="1.2" fill="#0a0a0a"/>
<circle cx="559.80" cy="121.11" r="1.2" fill="#0a0a0a"/>
<circle cx="559.80" cy="122.51" r="1.2" fill="#0a0a0a"/>
<circle cx="559.80" cy="123.59" r="1.2" fill="#0a0a0a"/>
<circle cx="559.80" cy="124.40" r="1.2" fill="#0a0a0a"/>
<circle cx="559.80" cy="125.47" r="1.2" fill="#0a0a0a"/>
<circle cx="559.80" cy="128.95" r="1.2" fill="#0a0a0a"/>
<circle cx="559.80" cy="130.42" r="1.2" fill="#0a0a0a"/>
<circle cx="559.80" cy="132.32" r="1.2" fill="#0a0a0a"/>
<circle cx="559.80" cy="133.55" r="1.2" fill="#0a0a0a"/>
<rect x="565.78" y="116" width="11.95" height="17.50" fill="#4393d8" stroke="#27313b" stroke-width="0.75"/>
<path d="M565.78 122.6H577.73" stroke="#27313b" stroke-width="0.9"/>
<path d="M571.75 109.2V116M571.75 133.5V151.8" stroke="#222" stroke-width="0.8" fill="none"/>
<circle cx="571.75" cy="109.20" r="1.2" fill="#0a0a0a"/>
<circle cx="571.75" cy="151.80" r="1.2" fill="#0a0a0a"/>
<circle cx="571.75" cy="110.26" r="1.2" fill="#0a0a0a"/>
<circle cx="571.75" cy="112.05" r="1.2" fill="#0a0a0a"/>
<circle cx="571.75" cy="113.23" r="1.2" fill="#0a0a0a"/>
<circle cx="571.75" cy="114.35" r="1.2" fill="#0a0a0a"/>
<circle cx="571.75" cy="118.67" r="1.2" fill="#0a0a0a"/>
<circle cx="571.75" cy="120.52" r="1.2" fill="#0a0a0a"/>
<circle cx="571.75" cy="122.89" r="1.2" fill="#0a0a0a"/>
<circle cx="571.75" cy="124.29" r="1.2" fill="#0a0a0a"/>
<circle cx="571.75" cy="127.33" r="1.2" fill="#0a0a0a"/>
<circle cx="571.75" cy="128.65" r="1.2" fill="#0a0a0a"/>
<circle cx="571.75" cy="131.71" r="1.2" fill="#0a0a0a"/>
<circle cx="571.75" cy="137.97" r="1.2" fill="#0a0a0a"/>
<circle cx="571.75" cy="142.28" r="1.2" fill="#0a0a0a"/>
<circle cx="571.75" cy="147.35" r="1.2" fill="#0a0a0a"/>
<rect x="586.23" y="98.6" width="11.95" height="25.90" fill="#f6fafe" stroke="#444" stroke-width="0.75"/>
<path d="M586.23 109.2H598.18" stroke="#444" stroke-width="0.9"/>
<path d="M592.20 83V98.6M592.20 124.5V133" stroke="#222" stroke-width="0.8" fill="none"/>
<circle cx="592.20" cy="83.00" r="1.2" fill="#0a0a0a"/>
<circle cx="592.20" cy="133.00" r="1.2" fill="#0a0a0a"/>
<circle cx="592.20" cy="92.46" r="1.2" fill="#0a0a0a"/>
<circle cx="592.20" cy="104.32" r="1.2" fill="#0a0a0a"/>
<circle cx="592.20" cy="110.35" r="1.2" fill="#0a0a0a"/>
<circle cx="592.20" cy="118.11" r="1.2" fill="#0a0a0a"/>
<circle cx="592.20" cy="128.19" r="1.2" fill="#0a0a0a"/>
<rect x="598.18" y="75.6" width="11.95" height="22.40" fill="#cbe0f3" stroke="#30353a" stroke-width="0.75"/>
<path d="M598.18 86.4H610.13" stroke="#30353a" stroke-width="0.9"/>
<path d="M604.15 52.1V75.6M604.15 98V112.8" stroke="#222" stroke-width="0.8" fill="none"/>
<circle cx="604.15" cy="52.10" r="1.2" fill="#0a0a0a"/>
<circle cx="604.15" cy="112.80" r="1.2" fill="#0a0a0a"/>
<circle cx="604.15" cy="55.25" r="1.2" fill="#0a0a0a"/>
<circle cx="604.15" cy="59.27" r="1.2" fill="#0a0a0a"/>
<circle cx="604.15" cy="62.97" r="1.2" fill="#0a0a0a"/>
<circle cx="604.15" cy="67.18" r="1.2" fill="#0a0a0a"/>
<circle cx="604.15" cy="71.32" r="1.2" fill="#0a0a0a"/>
<circle cx="604.15" cy="77.62" r="1.2" fill="#0a0a0a"/>
<circle cx="604.15" cy="80.37" r="1.2" fill="#0a0a0a"/>
<circle cx="604.15" cy="82.08" r="1.2" fill="#0a0a0a"/>
<circle cx="604.15" cy="84.56" r="1.2" fill="#0a0a0a"/>
<circle cx="604.15" cy="86.44" r="1.2" fill="#0a0a0a"/>
<circle cx="604.15" cy="88.87" r="1.2" fill="#0a0a0a"/>
<circle cx="604.15" cy="90.74" r="1.2" fill="#0a0a0a"/>
<circle cx="604.15" cy="93.24" r="1.2" fill="#0a0a0a"/>
<circle cx="604.15" cy="95.22" r="1.2" fill="#0a0a0a"/>
<circle cx="604.15" cy="101.30" r="1.2" fill="#0a0a0a"/>
<circle cx="604.15" cy="104.00" r="1.2" fill="#0a0a0a"/>
<circle cx="604.15" cy="106.42" r="1.2" fill="#0a0a0a"/>
<circle cx="604.15" cy="109.80" r="1.2" fill="#0a0a0a"/>
<rect x="610.13" y="79.1" width="11.95" height="19.40" fill="#4393d8" stroke="#27313b" stroke-width="0.75"/>
<path d="M610.13 91.5H622.08" stroke="#27313b" stroke-width="0.9"/>
<path d="M616.10 69.6V79.1M616.10 98.5V124.7" stroke="#222" stroke-width="0.8" fill="none"/>
<circle cx="616.10" cy="69.60" r="1.2" fill="#0a0a0a"/>
<circle cx="616.10" cy="124.70" r="1.2" fill="#0a0a0a"/>
<circle cx="616.10" cy="71.91" r="1.2" fill="#0a0a0a"/>
<circle cx="616.10" cy="73.03" r="1.2" fill="#0a0a0a"/>
<circle cx="616.10" cy="75.60" r="1.2" fill="#0a0a0a"/>
<circle cx="616.10" cy="77.14" r="1.2" fill="#0a0a0a"/>
<circle cx="616.10" cy="81.52" r="1.2" fill="#0a0a0a"/>
<circle cx="616.10" cy="84.36" r="1.2" fill="#0a0a0a"/>
<circle cx="616.10" cy="86.25" r="1.2" fill="#0a0a0a"/>
<circle cx="616.10" cy="88.81" r="1.2" fill="#0a0a0a"/>
<circle cx="616.10" cy="91.45" r="1.2" fill="#0a0a0a"/>
<circle cx="616.10" cy="94.23" r="1.2" fill="#0a0a0a"/>
<circle cx="616.10" cy="95.88" r="1.2" fill="#0a0a0a"/>
<circle cx="616.10" cy="106.14" r="1.2" fill="#0a0a0a"/>
<circle cx="616.10" cy="112.28" r="1.2" fill="#0a0a0a"/>
<circle cx="616.10" cy="118.60" r="1.2" fill="#0a0a0a"/>
<rect x="630.57" y="152.2" width="11.95" height="23.00" fill="#f6fafe" stroke="#444" stroke-width="0.75"/>
<path d="M630.57 170H642.52" stroke="#444" stroke-width="0.9"/>
<path d="M636.55 134V152.2M636.55 175.2V180.5" stroke="#222" stroke-width="0.8" fill="none"/>
<circle cx="636.55" cy="134.00" r="1.2" fill="#0a0a0a"/>
<circle cx="636.55" cy="180.50" r="1.2" fill="#0a0a0a"/>
<circle cx="636.55" cy="142.67" r="1.2" fill="#0a0a0a"/>
<circle cx="636.55" cy="157.51" r="1.2" fill="#0a0a0a"/>
<circle cx="636.55" cy="162.42" r="1.2" fill="#0a0a0a"/>
<circle cx="636.55" cy="168.39" r="1.2" fill="#0a0a0a"/>
<circle cx="636.55" cy="177.28" r="1.2" fill="#0a0a0a"/>
<rect x="642.52" y="126.3" width="11.95" height="20.80" fill="#cbe0f3" stroke="#30353a" stroke-width="0.75"/>
<path d="M642.52 138.7H654.48" stroke="#30353a" stroke-width="0.9"/>
<path d="M648.50 111.8V126.3M648.50 147.1V160.8" stroke="#222" stroke-width="0.8" fill="none"/>
<circle cx="648.50" cy="111.80" r="1.2" fill="#0a0a0a"/>
<circle cx="648.50" cy="160.80" r="1.2" fill="#0a0a0a"/>
<circle cx="648.50" cy="114.51" r="1.2" fill="#0a0a0a"/>
<circle cx="648.50" cy="116.34" r="1.2" fill="#0a0a0a"/>
<circle cx="648.50" cy="118.64" r="1.2" fill="#0a0a0a"/>
<circle cx="648.50" cy="120.96" r="1.2" fill="#0a0a0a"/>
<circle cx="648.50" cy="124.30" r="1.2" fill="#0a0a0a"/>
<circle cx="648.50" cy="128.77" r="1.2" fill="#0a0a0a"/>
<circle cx="648.50" cy="130.64" r="1.2" fill="#0a0a0a"/>
<circle cx="648.50" cy="132.31" r="1.2" fill="#0a0a0a"/>
<circle cx="648.50" cy="134.35" r="1.2" fill="#0a0a0a"/>
<circle cx="648.50" cy="136.48" r="1.2" fill="#0a0a0a"/>
<circle cx="648.50" cy="138.74" r="1.2" fill="#0a0a0a"/>
<circle cx="648.50" cy="140.50" r="1.2" fill="#0a0a0a"/>
<circle cx="648.50" cy="142.88" r="1.2" fill="#0a0a0a"/>
<circle cx="648.50" cy="144.77" r="1.2" fill="#0a0a0a"/>
<circle cx="648.50" cy="150.47" r="1.2" fill="#0a0a0a"/>
<circle cx="648.50" cy="153.23" r="1.2" fill="#0a0a0a"/>
<circle cx="648.50" cy="155.38" r="1.2" fill="#0a0a0a"/>
<circle cx="648.50" cy="157.71" r="1.2" fill="#0a0a0a"/>
<rect x="654.48" y="134" width="11.95" height="20.50" fill="#4393d8" stroke="#27313b" stroke-width="0.75"/>
<path d="M654.48 148.1H666.43" stroke="#27313b" stroke-width="0.9"/>
<path d="M660.45 124.5V134M660.45 154.5V177.5" stroke="#222" stroke-width="0.8" fill="none"/>
<circle cx="660.45" cy="124.50" r="1.2" fill="#0a0a0a"/>
<circle cx="660.45" cy="177.50" r="1.2" fill="#0a0a0a"/>
<circle cx="660.45" cy="126.84" r="1.2" fill="#0a0a0a"/>
<circle cx="660.45" cy="128.12" r="1.2" fill="#0a0a0a"/>
<circle cx="660.45" cy="130.06" r="1.2" fill="#0a0a0a"/>
<circle cx="660.45" cy="131.63" r="1.2" fill="#0a0a0a"/>
<circle cx="660.45" cy="136.41" r="1.2" fill="#0a0a0a"/>
<circle cx="660.45" cy="139.09" r="1.2" fill="#0a0a0a"/>
<circle cx="660.45" cy="141.69" r="1.2" fill="#0a0a0a"/>
<circle cx="660.45" cy="143.87" r="1.2" fill="#0a0a0a"/>
<circle cx="660.45" cy="146.82" r="1.2" fill="#0a0a0a"/>
<circle cx="660.45" cy="148.74" r="1.2" fill="#0a0a0a"/>
<circle cx="660.45" cy="151.64" r="1.2" fill="#0a0a0a"/>
<circle cx="660.45" cy="159.07" r="1.2" fill="#0a0a0a"/>
<circle cx="660.45" cy="165.71" r="1.2" fill="#0a0a0a"/>
<circle cx="660.45" cy="170.43" r="1.2" fill="#0a0a0a"/>
<rect x="674.92" y="213.8" width="11.95" height="13.70" fill="#f6fafe" stroke="#444" stroke-width="0.75"/>
<path d="M674.92 222H686.88" stroke="#444" stroke-width="0.9"/>
<path d="M680.90 193.5V213.8M680.90 227.5V237.4" stroke="#222" stroke-width="0.8" fill="none"/>
<circle cx="680.90" cy="193.50" r="1.2" fill="#0a0a0a"/>
<circle cx="680.90" cy="237.40" r="1.2" fill="#0a0a0a"/>
<circle cx="680.90" cy="201.23" r="1.2" fill="#0a0a0a"/>
<circle cx="680.90" cy="216.89" r="1.2" fill="#0a0a0a"/>
<circle cx="680.90" cy="220.19" r="1.2" fill="#0a0a0a"/>
<circle cx="680.90" cy="224.22" r="1.2" fill="#0a0a0a"/>
<circle cx="680.90" cy="232.52" r="1.2" fill="#0a0a0a"/>
<rect x="686.88" y="191" width="11.95" height="21.00" fill="#cbe0f3" stroke="#30353a" stroke-width="0.75"/>
<path d="M686.88 203H698.83" stroke="#30353a" stroke-width="0.9"/>
<path d="M692.85 183.9V191M692.85 212V219.8" stroke="#222" stroke-width="0.8" fill="none"/>
<circle cx="692.85" cy="183.90" r="1.2" fill="#0a0a0a"/>
<circle cx="692.85" cy="219.80" r="1.2" fill="#0a0a0a"/>
<circle cx="692.85" cy="185.23" r="1.2" fill="#0a0a0a"/>
<circle cx="692.85" cy="186.36" r="1.2" fill="#0a0a0a"/>
<circle cx="692.85" cy="187.58" r="1.2" fill="#0a0a0a"/>
<circle cx="692.85" cy="188.86" r="1.2" fill="#0a0a0a"/>
<circle cx="692.85" cy="189.75" r="1.2" fill="#0a0a0a"/>
<circle cx="692.85" cy="192.92" r="1.2" fill="#0a0a0a"/>
<circle cx="692.85" cy="195.71" r="1.2" fill="#0a0a0a"/>
<circle cx="692.85" cy="196.93" r="1.2" fill="#0a0a0a"/>
<circle cx="692.85" cy="199.64" r="1.2" fill="#0a0a0a"/>
<circle cx="692.85" cy="201.65" r="1.2" fill="#0a0a0a"/>
<circle cx="692.85" cy="203.12" r="1.2" fill="#0a0a0a"/>
<circle cx="692.85" cy="206.05" r="1.2" fill="#0a0a0a"/>
<circle cx="692.85" cy="208.21" r="1.2" fill="#0a0a0a"/>
<circle cx="692.85" cy="210.03" r="1.2" fill="#0a0a0a"/>
<circle cx="692.85" cy="213.74" r="1.2" fill="#0a0a0a"/>
<circle cx="692.85" cy="215.36" r="1.2" fill="#0a0a0a"/>
<circle cx="692.85" cy="216.40" r="1.2" fill="#0a0a0a"/>
<circle cx="692.85" cy="218.26" r="1.2" fill="#0a0a0a"/>
<rect x="698.83" y="201.2" width="11.95" height="10.60" fill="#4393d8" stroke="#27313b" stroke-width="0.75"/>
<path d="M698.83 206.4H710.78" stroke="#27313b" stroke-width="0.9"/>
<path d="M704.80 182.5V201.2M704.80 211.8V227.3" stroke="#222" stroke-width="0.8" fill="none"/>
<circle cx="704.80" cy="182.50" r="1.2" fill="#0a0a0a"/>
<circle cx="704.80" cy="227.30" r="1.2" fill="#0a0a0a"/>
<circle cx="704.80" cy="186.25" r="1.2" fill="#0a0a0a"/>
<circle cx="704.80" cy="190.61" r="1.2" fill="#0a0a0a"/>
<circle cx="704.80" cy="194.29" r="1.2" fill="#0a0a0a"/>
<circle cx="704.80" cy="198.07" r="1.2" fill="#0a0a0a"/>
<circle cx="704.80" cy="202.58" r="1.2" fill="#0a0a0a"/>
<circle cx="704.80" cy="204.11" r="1.2" fill="#0a0a0a"/>
<circle cx="704.80" cy="205.30" r="1.2" fill="#0a0a0a"/>
<circle cx="704.80" cy="206.63" r="1.2" fill="#0a0a0a"/>
<circle cx="704.80" cy="207.65" r="1.2" fill="#0a0a0a"/>
<circle cx="704.80" cy="208.84" r="1.2" fill="#0a0a0a"/>
<circle cx="704.80" cy="210.23" r="1.2" fill="#0a0a0a"/>
<circle cx="704.80" cy="215.41" r="1.2" fill="#0a0a0a"/>
<circle cx="704.80" cy="218.78" r="1.2" fill="#0a0a0a"/>
<circle cx="704.80" cy="224.08" r="1.2" fill="#0a0a0a"/>
<text x="153.8" y="48.9" font-size="9.5" font-weight="bold" text-anchor="middle" style="fill:#1c1c1c;stroke:#1c1c1c;stroke-width:0.12px">*</text>
<text x="158.2" y="48.9" font-size="9.5" font-weight="bold" text-anchor="middle" style="fill:#1c1c1c;stroke:#1c1c1c;stroke-width:0.12px">*</text>
<path d="M148.2 47.2H163" stroke="#8c8c8c" stroke-width="1.3"/>
<path d="M148.2 48.6H173.8" stroke="#333" stroke-width="0.9"/>
<text x="237.0" y="50.8" font-size="9.5" font-weight="bold" text-anchor="middle" style="fill:#1c1c1c;stroke:#1c1c1c;stroke-width:0.12px">*</text>
<text x="241.39999999999998" y="50.8" font-size="9.5" font-weight="bold" text-anchor="middle" style="fill:#1c1c1c;stroke:#1c1c1c;stroke-width:0.12px">*</text>
<path d="M232 48.7H246.8" stroke="#555" stroke-width="1.2"/>
<text x="281.90000000000003" y="109.4" font-size="9.5" font-weight="bold" text-anchor="middle" style="fill:#1c1c1c;stroke:#1c1c1c;stroke-width:0.12px">*</text>
<text x="286.3" y="109.4" font-size="9.5" font-weight="bold" text-anchor="middle" style="fill:#1c1c1c;stroke:#1c1c1c;stroke-width:0.12px">*</text>
<path d="M277.1 107.5H290.9" stroke="#333" stroke-width="0.9"/>
<text x="295.9" y="111.60000000000001" font-size="8.6" font-weight="bold" text-anchor="middle" style="fill:#333;stroke:none">*</text>
<path d="M277.1 109.8H299.7" stroke="#8c8c8c" stroke-width="1.3"/>
<text x="323.6" y="181.0" font-size="9.5" font-weight="bold" text-anchor="middle" style="fill:#1c1c1c;stroke:#1c1c1c;stroke-width:0.12px">*</text>
<text x="328.0" y="181.0" font-size="9.5" font-weight="bold" text-anchor="middle" style="fill:#1c1c1c;stroke:#1c1c1c;stroke-width:0.12px">*</text>
<path d="M318.3 178.7H331.7" stroke="#8c8c8c" stroke-width="1.3"/>
<text x="336.9" y="182.6" font-size="8.6" font-weight="bold" text-anchor="middle" style="fill:#333;stroke:none">*</text>
<path d="M318.3 181H340.8" stroke="#333" stroke-width="0.9"/>
<text x="365.5" y="172.4" font-size="9.5" font-weight="bold" text-anchor="middle" style="fill:#1c1c1c;stroke:#1c1c1c;stroke-width:0.12px">*</text>
<text x="369.9" y="172.4" font-size="9.5" font-weight="bold" text-anchor="middle" style="fill:#1c1c1c;stroke:#1c1c1c;stroke-width:0.12px">*</text>
<path d="M360.5 170.2H373.9" stroke="#333" stroke-width="0.9"/>
<text x="378.8" y="174.3" font-size="8.6" font-weight="bold" text-anchor="middle" style="fill:#333;stroke:none">*</text>
<path d="M360.5 173H383" stroke="#8c8c8c" stroke-width="1.3"/>
<text x="464.7" y="114.5" font-size="8.6" font-weight="bold" text-anchor="middle" style="fill:#333;stroke:none">*</text>
<path d="M458.8 113.4H471" stroke="#555" stroke-width="1.0"/>
<text x="507.5" y="105.5" font-size="9.5" font-weight="bold" text-anchor="middle" style="fill:#1c1c1c;stroke:#1c1c1c;stroke-width:0.12px">*</text>
<text x="511.9" y="105.5" font-size="9.5" font-weight="bold" text-anchor="middle" style="fill:#1c1c1c;stroke:#1c1c1c;stroke-width:0.12px">*</text>
<path d="M502 104.1H517.5" stroke="#555" stroke-width="1.0"/>
<text x="553.2" y="90.80000000000001" font-size="8.6" font-weight="bold" text-anchor="middle" style="fill:#333;stroke:none">*</text>
<path d="M547.2 89.2H559.6" stroke="#555" stroke-width="1.0"/>
<text x="597.0999999999999" y="49.3" font-size="9.5" font-weight="bold" text-anchor="middle" style="fill:#1c1c1c;stroke:#1c1c1c;stroke-width:0.12px">*</text>
<text x="601.5" y="49.3" font-size="9.5" font-weight="bold" text-anchor="middle" style="fill:#1c1c1c;stroke:#1c1c1c;stroke-width:0.12px">*</text>
<path d="M591.9 47.2H605.3" stroke="#333" stroke-width="0.9"/>
<text x="610.9" y="51.4" font-size="8.6" font-weight="bold" text-anchor="middle" style="fill:#333;stroke:none">*</text>
<path d="M591.9 49.5H614.7" stroke="#333" stroke-width="0.9"/>
<text x="640.6999999999999" y="105.2" font-size="9.5" font-weight="bold" text-anchor="middle" style="fill:#1c1c1c;stroke:#1c1c1c;stroke-width:0.12px">*</text>
<text x="645.1" y="105.2" font-size="9.5" font-weight="bold" text-anchor="middle" style="fill:#1c1c1c;stroke:#1c1c1c;stroke-width:0.12px">*</text>
<path d="M636.2 103.7H648.9" stroke="#8c8c8c" stroke-width="1.3"/>
<text x="654.5" y="107.9" font-size="8.6" font-weight="bold" text-anchor="middle" style="fill:#333;stroke:none">*</text>
<path d="M636.2 106.4H658.3" stroke="#333" stroke-width="0.9"/>
<text x="687.3" y="172.20000000000002" font-size="8.6" font-weight="bold" text-anchor="middle" style="fill:#333;stroke:none">*</text>
<path d="M680.8 171.3H694.3" stroke="#333" stroke-width="0.9"/>
<text x="699.5" y="175.0" font-size="8.6" font-weight="bold" text-anchor="middle" style="fill:#333;stroke:none">*</text>
<path d="M680.8 173.7H703.3" stroke="#333" stroke-width="0.9"/>
<path d="M50.4 46H52.9" stroke="#3a3a3a" stroke-width="0.9"/>
<text x="21" y="50.7" font-size="10.4" text-anchor="start" textLength="23.75" lengthAdjust="spacingAndGlyphs" >10.00</text>
<path d="M50.4 111.4H52.9" stroke="#3a3a3a" stroke-width="0.9"/>
<text x="27.3" y="115.2" font-size="10.4" text-anchor="start" textLength="18.1" lengthAdjust="spacingAndGlyphs" >1.00</text>
<path d="M50.4 176.6H52.9" stroke="#3a3a3a" stroke-width="0.9"/>
<text x="26.4" y="179.7" font-size="10.4" text-anchor="start" textLength="19.4" lengthAdjust="spacingAndGlyphs" >0.10</text>
<path d="M50.4 242.1H52.9" stroke="#3a3a3a" stroke-width="0.9"/>
<text x="26.4" y="244.2" font-size="10.4" text-anchor="start" textLength="18.1" lengthAdjust="spacingAndGlyphs" >0.01</text>
<path d="M442.2 81.6H444.5" stroke="#3a3a3a" stroke-width="0.9"/>
<text x="418.9" y="87.3" font-size="10.4" text-anchor="start" textLength="19.4" lengthAdjust="spacingAndGlyphs" >0.30</text>
<path d="M442.2 141H444.5" stroke="#3a3a3a" stroke-width="0.9"/>
<text x="418.9" y="145.0" font-size="10.4" text-anchor="start" textLength="19.4" lengthAdjust="spacingAndGlyphs" >0.10</text>
<path d="M442.2 205.4H444.5" stroke="#3a3a3a" stroke-width="0.9"/>
<text x="418.9" y="208.89999999999998" font-size="10.4" text-anchor="start" textLength="19.4" lengthAdjust="spacingAndGlyphs" >0.03</text>
<path d="M77.80 246.5V249" stroke="#3a3a3a" stroke-width="0.9"/>
<text x="77.8" y="260.6" font-size="10.6" text-anchor="middle" >1</text>
<path d="M120.01 246.5V249" stroke="#3a3a3a" stroke-width="0.9"/>
<text x="120.01" y="260.6" font-size="10.6" text-anchor="middle" >2</text>
<path d="M162.22 246.5V249" stroke="#3a3a3a" stroke-width="0.9"/>
<text x="162.22" y="260.6" font-size="10.6" text-anchor="middle" >4</text>
<path d="M204.43 246.5V249" stroke="#3a3a3a" stroke-width="0.9"/>
<text x="204.43" y="260.6" font-size="10.6" text-anchor="middle" >5</text>
<path d="M246.64 246.5V249" stroke="#3a3a3a" stroke-width="0.9"/>
<text x="246.64" y="260.6" font-size="10.6" text-anchor="middle" >6</text>
<path d="M288.85 246.5V249" stroke="#3a3a3a" stroke-width="0.9"/>
<text x="288.85" y="260.6" font-size="10.6" text-anchor="middle" >7</text>
<path d="M331.06 246.5V249" stroke="#3a3a3a" stroke-width="0.9"/>
<text x="331.06" y="260.6" font-size="10.6" text-anchor="middle" >10</text>
<path d="M373.27 246.5V249" stroke="#3a3a3a" stroke-width="0.9"/>
<text x="373.27" y="260.6" font-size="10.6" text-anchor="middle" >12</text>
<path d="M471.10 246.5V249" stroke="#3a3a3a" stroke-width="0.9"/>
<text x="471.1" y="260.6" font-size="10.6" text-anchor="middle" >1</text>
<path d="M515.45 246.5V249" stroke="#3a3a3a" stroke-width="0.9"/>
<text x="515.45" y="260.6" font-size="10.6" text-anchor="middle" >2</text>
<path d="M559.80 246.5V249" stroke="#3a3a3a" stroke-width="0.9"/>
<text x="559.8" y="260.6" font-size="10.6" text-anchor="middle" >4</text>
<path d="M604.15 246.5V249" stroke="#3a3a3a" stroke-width="0.9"/>
<text x="604.15" y="260.6" font-size="10.6" text-anchor="middle" >5</text>
<path d="M648.50 246.5V249" stroke="#3a3a3a" stroke-width="0.9"/>
<text x="648.5" y="260.6" font-size="10.6" text-anchor="middle" >6</text>
<path d="M692.85 246.5V249" stroke="#3a3a3a" stroke-width="0.9"/>
<text x="692.85" y="260.6" font-size="10.6" text-anchor="middle" >7</text>
<text x="57.5" y="35.5" font-size="15" text-anchor="start" textLength="16.5" lengthAdjust="spacingAndGlyphs" >PE</text>
<text x="448.1" y="35.5" font-size="15" text-anchor="start" textLength="27.2" lengthAdjust="spacingAndGlyphs" >PEp</text>
<text x="160" y="281.7" font-size="13.7" text-anchor="start" textLength="18.75" lengthAdjust="spacingAndGlyphs" >No.</text>
<text x="183" y="281.7" font-size="13.7" text-anchor="start" textLength="10" lengthAdjust="spacingAndGlyphs" >of</text>
<text x="197" y="281.7" font-size="13.7" text-anchor="start" textLength="39.25" lengthAdjust="spacingAndGlyphs" >double</text>
<text x="241.25" y="281.7" font-size="13.7" text-anchor="start" textLength="36.25" lengthAdjust="spacingAndGlyphs" >bonds</text>
<text x="535.75" y="281.7" font-size="13.7" text-anchor="start" textLength="18.75" lengthAdjust="spacingAndGlyphs" >No.</text>
<text x="558.75" y="281.7" font-size="13.7" text-anchor="start" textLength="10" lengthAdjust="spacingAndGlyphs" >of</text>
<text x="572.75" y="281.7" font-size="13.7" text-anchor="start" textLength="39.25" lengthAdjust="spacingAndGlyphs" >double</text>
<text x="617.0" y="281.7" font-size="13.7" text-anchor="start" textLength="36.25" lengthAdjust="spacingAndGlyphs" >bonds</text>
<text transform="translate(11.8,226.3) rotate(-90)" font-size="13.2" textLength="28.8" lengthAdjust="spacingAndGlyphs">%Mol</text>
<text transform="translate(11.8,191.3) rotate(-90)" font-size="13.2" textLength="10.0" lengthAdjust="spacingAndGlyphs">of</text>
<text transform="translate(11.8,176.3) rotate(-90)" font-size="13.2" textLength="28.8" lengthAdjust="spacingAndGlyphs">Total</text>
<text transform="translate(11.8,142.5) rotate(-90)" font-size="13.2" textLength="25.5" lengthAdjust="spacingAndGlyphs">Lipid</text>
<text transform="translate(11.8,112) rotate(-90)" font-size="13.2" textLength="60.7" lengthAdjust="spacingAndGlyphs">Quantified</text>
<text x="591.6" y="11.3" font-size="11.5" text-anchor="start" textLength="118" lengthAdjust="spacingAndGlyphs" >rs1990622 Genotype</text>
<rect x="590.6" y="22.3" width="10" height="9.5" fill="#f6fafe" stroke="#555" stroke-width="0.8"/>
<text x="602.9" y="30.9" font-size="12.6" text-anchor="start" textLength="21.8" lengthAdjust="spacingAndGlyphs" >G/G</text>
<rect x="633.4" y="22.3" width="10" height="9.5" fill="#cbe0f3" stroke="#555" stroke-width="0.8"/>
<text x="645.7" y="30.9" font-size="12.6" text-anchor="start" textLength="22" lengthAdjust="spacingAndGlyphs" >A/G</text>
<rect x="676.5" y="22.3" width="10" height="9.5" fill="#4393d8" stroke="#555" stroke-width="0.8"/>
<text x="688.9" y="30.9" font-size="12.6" text-anchor="start" textLength="20.3" lengthAdjust="spacingAndGlyphs" >A/A</text>
</svg>
</body></html>
